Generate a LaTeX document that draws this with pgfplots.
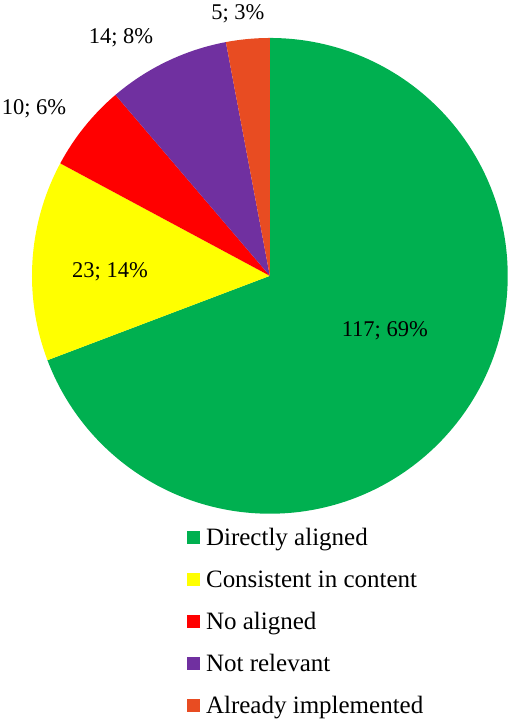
\documentclass[border=0pt]{standalone}
\usepackage{pgfplots}
\pgfplotsset{compat=1.18}
\usepackage{pgfplotstable}
\usepackage{fontspec}
\setmainfont{Liberation Serif}
\definecolor{cA}{HTML}{00B050}
\definecolor{cB}{HTML}{FFFF00}
\definecolor{cC}{HTML}{FF0000}
\definecolor{cD}{HTML}{7030A0}
\definecolor{cE}{HTML}{E84C22}
\pgfplotstableread{
value
117
23
10
14
5
}\piedata
\newcommand\lblfont{\fontsize{22.5bp}{26bp}\selectfont}
\newcommand\legfont{\fontsize{25bp}{29bp}\selectfont}
\begin{document}
\begin{tikzpicture}
\pgfplotstablegetelem{0}{value}\of\piedata \let\vA\pgfplotsretval
\pgfplotstablegetelem{1}{value}\of\piedata \let\vB\pgfplotsretval
\pgfplotstablegetelem{2}{value}\of\piedata \let\vC\pgfplotsretval
\pgfplotstablegetelem{3}{value}\of\piedata \let\vD\pgfplotsretval
\pgfplotstablegetelem{4}{value}\of\piedata \let\vE\pgfplotsretval
\pgfmathsetmacro\tot{\vA+\vB+\vC+\vD+\vE}
\pgfmathsetmacro\aA{90}
\pgfmathsetmacro\aB{\aA-360*(\vA/\tot)}
\pgfmathsetmacro\aC{\aB-360*(\vB/\tot)}
\pgfmathsetmacro\aD{\aC-360*(\vC/\tot)}
\pgfmathsetmacro\aE{\aD-360*(\vD/\tot)}
\pgfmathsetmacro\aF{\aE-360*(\vE/\tot)}
\begin{axis}[
  scale only axis, width=509bp, height=719bp,
  xmin=0, xmax=509, ymin=0, ymax=719,
  hide axis, clip=false,
]
\path (axis cs:0,0) rectangle (axis cs:509,719);
\def\cx{270}\def\cy{443}\def\R{238bp}
\fill[cA] (axis cs:\cx,\cy) -- ++(\aA:\R) arc[start angle=\aA, end angle=\aB, radius=\R] -- cycle;
\fill[cB] (axis cs:\cx,\cy) -- ++(\aB:\R) arc[start angle=\aB, end angle=\aC, radius=\R] -- cycle;
\fill[cC] (axis cs:\cx,\cy) -- ++(\aC:\R) arc[start angle=\aC, end angle=\aD, radius=\R] -- cycle;
\fill[cD] (axis cs:\cx,\cy) -- ++(\aD:\R) arc[start angle=\aD, end angle=\aE, radius=\R] -- cycle;
\fill[cE] (axis cs:\cx,\cy) -- ++(\aE:\R) arc[start angle=\aE, end angle=\aF, radius=\R] -- cycle;
% data labels
\node[anchor=base, inner sep=0pt] at (axis cs:385,382) {\lblfont 117; 69\%};
\node[anchor=base, inner sep=0pt] at (axis cs:110,441) {\lblfont 23; 14\%};
\node[anchor=base, inner sep=0pt] at (axis cs:34,604) {\lblfont 10; 6\%};
\node[anchor=base, inner sep=0pt] at (axis cs:121,675) {\lblfont 14; 8\%};
\node[anchor=base, inner sep=0pt] at (axis cs:238,699) {\lblfont 5; 3\%};
% legend
\foreach \yy/\cc/\tt in {538/cA/Directly aligned, 580/cB/Consistent in content, 622/cC/No aligned, 664/cD/Not relevant, 706/cE/Already implemented}{
  \edef\tmp{\noexpand\fill[\cc] (axis cs:187,{719-\yy-6.5}) rectangle (axis cs:200,{719-\yy+6.5});
    \noexpand\node[anchor=base west, inner sep=0pt] at (axis cs:206,{719-\yy-8}) {\noexpand\legfont \tt};}
  \tmp
}
\end{axis}
\end{tikzpicture}
\end{document}
